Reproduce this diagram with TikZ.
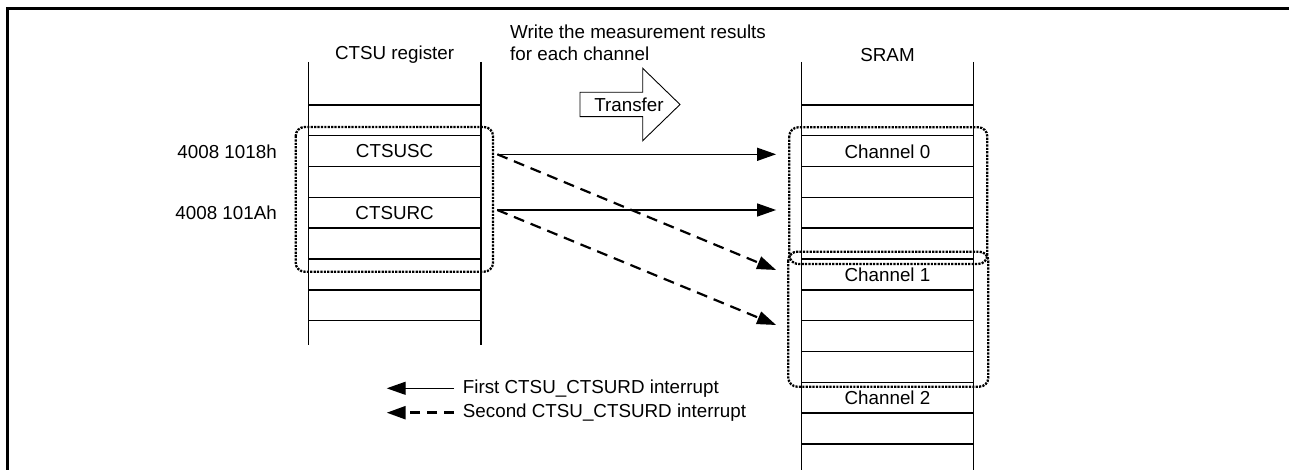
\documentclass[tikz,border=0pt]{standalone}
\usepackage{fontspec}
\setmainfont{Liberation Sans}
\usepackage{tikz}
\usetikzlibrary{calc,positioning,arrows.meta}

\begin{document}
\begin{tikzpicture}[x=1pt,y=-1pt,font=\fontsize{18.8pt}{22.5pt}\selectfont,
        lbl/.style={inner sep=0pt},
        cl/.style={minimum width=171pt,minimum height=30pt,inner sep=0pt},
        col/.style={line width=1.4pt},
        grp/.style={line width=2.3pt,dash pattern=on 2.2pt off 1.2pt,rounded corners=9pt},
        sa/.style={-{Triangle[length=19pt,width=13pt]},line width=1.4pt},
        da/.style={-{Triangle[length=19pt,width=13pt]},line width=2.2pt,dash pattern=on 11pt off 7pt}]
        \useasboundingbox (0,0) rectangle (1289,470);
        % frame: only the top and left edges show
        \draw[line width=3pt] (7.5,470) -- (7.5,8.5) -- (1289,8.5);
        % register and SRAM columns
        \draw[col] (308.3,62) -- (308.3,345); \draw[col] (481,62) -- (481,345);
        \draw[col] (801.7,62) -- (801.7,470); \draw[col] (973.3,62) -- (973.3,470);
        \foreach \k in {0,...,7} \draw[col] (308.3,{105+30.8*\k}) -- (481,{105+30.8*\k});
        \foreach \k in {0,...,11} \draw[col] (801.7,{105+30.8*\k}) -- (973.3,{105+30.8*\k});
        \node[lbl] (regttl) at (394.6,55) {CTSU register}; \node[lbl] (sramttl) at (887.5,55) {SRAM};
        \node[lbl,anchor=west,align=left] (note) at (510,43) {Write the measurement results\\for each channel};
        \node[cl] (usc) at (394.6,151.3) {CTSUSC}; \node[cl] (urc) at (394.6,212.8) {CTSURC};
        \node[lbl,anchor=east] (a1018) at (277,151.3) {4008 1018h}; \node[lbl,anchor=east] (a101a) at (277,212.8) {4008 101Ah};
        \node[cl] (ch0) at (887.5,151.3) {Channel 0}; \node[cl] (ch1) at (887.5,274.5) {Channel 1}; \node[cl] (ch2) at (887.5,397.8) {Channel 2};
        % dotted groups
        \draw[grp] (295.7,127) rectangle (493,271.7);
        \draw[grp] (789.3,127.3) rectangle (987.3,264); \draw[grp] (788.3,251.7) rectangle (988.3,386.7);
        % transfer arrow
        \draw[line width=0.9pt] (580,92.3) -- (642.7,92.3) -- (642.7,68.3) -- (680,104.5) -- (642.7,140.7) -- (642.7,116.7) -- (580,116.7) -- cycle;
        \node[lbl] (xfer) at (629,104.5) {Transfer};
        % interrupts
        \draw[sa] ($(usc.east)+(17,3)$) -- ($(ch0.west)+(-25.7,3)$);
        \draw[sa] ($(urc.east)+(17,-2.8)$) -- ($(urc.east -| ch0.west)+(-25.7,-2.8)$);
        \draw[da] ($(usc.east)+(17,3)$) -- ($(ch1.west)+(-25.7,-4.5)$);
        \draw[da] ($(urc.east)+(17,-2.8)$) -- ($(ch1.west)+(-25.7,50.5)$);
        % legend
        \node[lbl,anchor=west] (lgfirst) at (462.7,388.3) {First CTSU\_CTSURD interrupt};
        \node[lbl,anchor=west] (lgsecond) at (462.7,412.7) {Second CTSU\_CTSURD interrupt};
        \coordinate (lgfirsttip) at (386.7,388.3); \coordinate (lgsecondtip) at (386.7,412.7);
        \draw[sa,shorten <=8.7pt] (lgfirst.west) -- (lgfirsttip);
        \draw[da,line width=2.5pt,dash pattern=on 10pt off 7pt,shorten <=8.7pt] (lgsecond.west) -- (lgsecondtip);
      \end{tikzpicture}
\end{document}
